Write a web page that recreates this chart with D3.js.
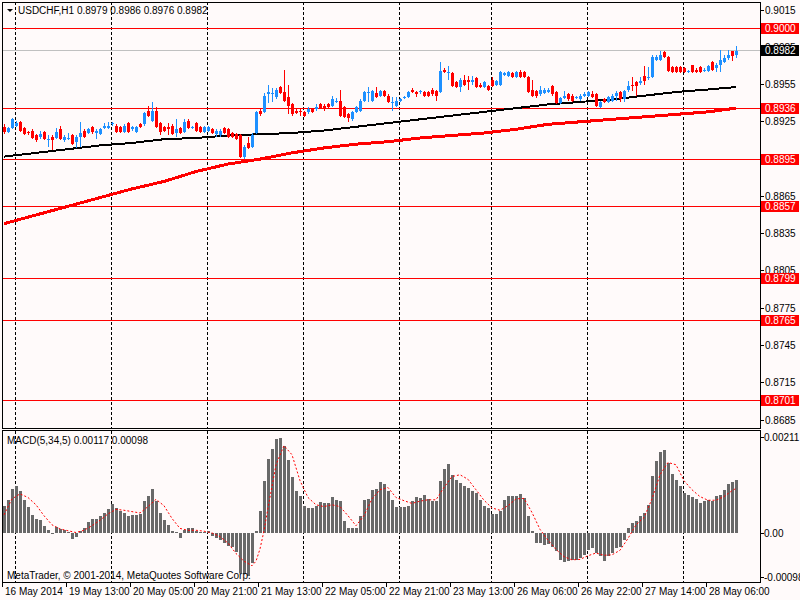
<!DOCTYPE html>
<html><head>
<meta charset="utf-8">
<title>USDCHF,H1</title>
<style>
body {margin:0; background:#fffafa}
text {font-family:"Liberation Sans", Arial, sans-serif; font-size:10px; fill:#000}
</style>
</head>
<body>
<script src="https://d3js.org/d3.v7.min.js"></script>
<script>
// hourly bars, 16 May 21:00 .. 28 May 13:00
var opens = [0.8921,0.8917,0.8920,0.8922,0.8925,0.8920,0.8917,0.8918,0.8914,0.8913,
  0.8917,0.8910,0.8913,0.8912,0.8919,0.8910,0.8911,0.8914,0.8909,0.8913,
  0.8918,0.8916,0.8921,0.8916,0.8915,0.8920,0.8920,0.8923,0.8922,0.8921,
  0.8917,0.8924,0.8919,0.8917,0.8923,0.8923,0.8934,0.8926,0.8934,0.8924,
  0.8921,0.8921,0.8922,0.8916,0.8920,0.8917,0.8926,0.8920,0.8924,0.8921,
  0.8917,0.8918,0.8919,0.8915,0.8914,0.8920,0.8919,0.8916,0.8915,0.8914,
  0.8897,0.8908,0.8905,0.8916,0.8934,0.8933,0.8947,0.8947,0.8945,0.8953,
  0.8949,0.8945,0.8939,0.8934,0.8934,0.8933,0.8933,0.8935,0.8935,0.8939,
  0.8938,0.8939,0.8938,0.8941,0.8942,0.8937,0.8931,0.8927,0.8933,0.8934,
  0.8942,0.8948,0.8942,0.8948,0.8946,0.8950,0.8946,0.8940,0.8938,0.8942,
  0.8944,0.8945,0.8951,0.8949,0.8949,0.8949,0.8949,0.8951,0.8950,0.8949,
  0.8967,0.8964,0.8964,0.8957,0.8953,0.8959,0.8959,0.8957,0.8960,0.8955,
  0.8953,0.8954,0.8959,0.8955,0.8955,0.8963,0.8962,0.8964,0.8961,0.8965,
  0.8965,0.8961,0.8951,0.8950,0.8947,0.8948,0.8949,0.8954,0.8949,0.8940,
  0.8944,0.8947,0.8946,0.8944,0.8943,0.8946,0.8946,0.8947,0.8947,0.8937,
  0.8943,0.8941,0.8942,0.8946,0.8949,0.8943,0.8951,0.8955,0.8957,0.8956,
  0.8962,0.8960,0.8961,0.8975,0.8975,0.8981,0.8977,0.8969,0.8969,0.8969,
  0.8968,0.8965,0.8971,0.8967,0.8969,0.8966,0.8966,0.8973,0.8968,0.8971,
  0.8973,0.8976,0.8982,0.8979];
var highs = [0.8923,0.8921,0.8928,0.8926,0.8926,0.8921,0.8918,0.8919,0.8915,0.8918,
  0.8918,0.8914,0.8914,0.8920,0.8922,0.8914,0.8916,0.8915,0.8914,0.8925,
  0.8919,0.8920,0.8922,0.8919,0.8920,0.8924,0.8925,0.8925,0.8923,0.8922,
  0.8923,0.8925,0.8922,0.8922,0.8924,0.8933,0.8938,0.8941,0.8937,0.8925,
  0.8922,0.8924,0.8923,0.8927,0.8921,0.8927,0.8927,0.8922,0.8925,0.8922,
  0.8922,0.8922,0.8920,0.8919,0.8919,0.8921,0.8920,0.8917,0.8916,0.8915,
  0.8906,0.8913,0.8916,0.8934,0.8935,0.8948,0.8955,0.8952,0.8952,0.8954,
  0.8967,0.8955,0.8940,0.8935,0.8935,0.8934,0.8937,0.8936,0.8939,0.8940,
  0.8939,0.8940,0.8946,0.8944,0.8951,0.8938,0.8932,0.8934,0.8938,0.8943,
  0.8950,0.8953,0.8951,0.8953,0.8951,0.8951,0.8947,0.8945,0.8945,0.8944,
  0.8946,0.8950,0.8952,0.8950,0.8951,0.8950,0.8950,0.8952,0.8951,0.8973,
  0.8968,0.8970,0.8965,0.8958,0.8960,0.8963,0.8962,0.8962,0.8961,0.8956,
  0.8958,0.8955,0.8961,0.8959,0.8966,0.8965,0.8966,0.8965,0.8966,0.8967,
  0.8966,0.8962,0.8959,0.8951,0.8954,0.8952,0.8952,0.8955,0.8950,0.8945,
  0.8950,0.8948,0.8947,0.8946,0.8947,0.8949,0.8950,0.8950,0.8948,0.8942,
  0.8944,0.8946,0.8947,0.8950,0.8950,0.8951,0.8958,0.8961,0.8958,0.8961,
  0.8970,0.8969,0.8979,0.8979,0.8982,0.8982,0.8978,0.8970,0.8970,0.8970,
  0.8969,0.8967,0.8971,0.8968,0.8970,0.8968,0.8971,0.8974,0.8972,0.8983,
  0.8979,0.8983,0.8982,0.8986];
var lows = [0.8915,0.8916,0.8919,0.8921,0.8917,0.8914,0.8914,0.8911,0.8909,0.8911,
  0.8910,0.8905,0.8902,0.8911,0.8910,0.8909,0.8910,0.8906,0.8904,0.8905,
  0.8912,0.8915,0.8915,0.8911,0.8914,0.8919,0.8919,0.8922,0.8916,0.8916,
  0.8916,0.8916,0.8918,0.8916,0.8920,0.8922,0.8929,0.8925,0.8920,0.8914,
  0.8917,0.8914,0.8914,0.8913,0.8915,0.8916,0.8919,0.8919,0.8917,0.8916,
  0.8916,0.8917,0.8915,0.8913,0.8913,0.8915,0.8912,0.8912,0.8910,0.8896,
  0.8895,0.8903,0.8904,0.8915,0.8930,0.8932,0.8940,0.8941,0.8943,0.8947,
  0.8941,0.8931,0.8930,0.8931,0.8930,0.8929,0.8931,0.8932,0.8934,0.8935,
  0.8934,0.8936,0.8937,0.8940,0.8929,0.8928,0.8925,0.8926,0.8932,0.8933,
  0.8941,0.8941,0.8941,0.8944,0.8945,0.8945,0.8940,0.8934,0.8937,0.8941,
  0.8943,0.8944,0.8948,0.8945,0.8947,0.8945,0.8945,0.8946,0.8942,0.8948,
  0.8964,0.8959,0.8953,0.8952,0.8949,0.8954,0.8951,0.8955,0.8952,0.8952,
  0.8952,0.8950,0.8953,0.8954,0.8954,0.8962,0.8961,0.8960,0.8960,0.8960,
  0.8960,0.8948,0.8945,0.8944,0.8946,0.8947,0.8948,0.8946,0.8939,0.8939,
  0.8943,0.8942,0.8941,0.8943,0.8942,0.8945,0.8945,0.8944,0.8937,0.8936,
  0.8940,0.8940,0.8941,0.8942,0.8941,0.8941,0.8949,0.8950,0.8946,0.8955,
  0.8955,0.8959,0.8960,0.8974,0.8974,0.8976,0.8965,0.8964,0.8964,0.8964,
  0.8964,0.8964,0.8964,0.8964,0.8964,0.8965,0.8965,0.8966,0.8965,0.8965,
  0.8972,0.8975,0.8974,0.8976];
var closes = [0.8917,0.8920,0.8927,0.8924,0.8918,0.8915,0.8916,0.8912,0.8910,0.8915,
  0.8911,0.8911,0.8910,0.8917,0.8911,0.8913,0.8912,0.8907,0.8913,0.8916,
  0.8913,0.8919,0.8917,0.8918,0.8919,0.8922,0.8922,0.8924,0.8917,0.8917,
  0.8922,0.8917,0.8921,0.8921,0.8921,0.8932,0.8930,0.8934,0.8921,0.8917,
  0.8918,0.8919,0.8915,0.8919,0.8916,0.8925,0.8920,0.8921,0.8918,0.8917,
  0.8921,0.8921,0.8916,0.8918,0.8918,0.8916,0.8913,0.8913,0.8911,0.8897,
  0.8905,0.8904,0.8914,0.8933,0.8931,0.8946,0.8949,0.8948,0.8951,0.8948,
  0.8942,0.8938,0.8931,0.8932,0.8933,0.8930,0.8935,0.8933,0.8937,0.8936,
  0.8935,0.8937,0.8943,0.8942,0.8930,0.8929,0.8928,0.8933,0.8937,0.8942,
  0.8949,0.8949,0.8950,0.8945,0.8950,0.8946,0.8941,0.8941,0.8942,0.8943,
  0.8945,0.8949,0.8949,0.8947,0.8950,0.8946,0.8946,0.8947,0.8946,0.8966,
  0.8965,0.8965,0.8954,0.8953,0.8959,0.8955,0.8957,0.8959,0.8953,0.8953,
  0.8957,0.8951,0.8954,0.8958,0.8965,0.8964,0.8965,0.8961,0.8965,0.8961,
  0.8961,0.8949,0.8946,0.8946,0.8951,0.8951,0.8951,0.8947,0.8940,0.8944,
  0.8946,0.8943,0.8942,0.8945,0.8946,0.8947,0.8949,0.8945,0.8938,0.8941,
  0.8941,0.8945,0.8946,0.8948,0.8943,0.8950,0.8954,0.8954,0.8954,0.8958,
  0.8958,0.8961,0.8977,0.8977,0.8979,0.8977,0.8966,0.8965,0.8965,0.8965,
  0.8965,0.8966,0.8965,0.8965,0.8965,0.8967,0.8970,0.8967,0.8971,0.8975,
  0.8976,0.8979,0.8978,0.8982];

// moving averages, read every 8 bars
var maBars = [0,8,16,24,32,40,48,56,64,72,80,88,96,104,112,120,128,136,144,152,160,168,176,183];
var maBlack = [0.8897,0.8900,0.8903,0.8906,0.8908,0.8911,0.8912,0.8914,0.8915,0.8916,0.8918,0.8921,
  0.8924,0.8927,0.8930,0.8933,0.8936,0.8939,0.8941,0.8943,0.8946,0.8949,0.8951,0.8953];
var maRed = [0.8843,0.8850,0.8857,0.8864,0.8871,0.8877,0.8885,0.8891,0.8895,0.8900,0.8904,0.8907,
  0.8909,0.8912,0.8914,0.8916,0.8919,0.8923,0.8925,0.8927,0.8929,0.8931,0.8933,0.8936];

// MACD(5,34,5) main values per bar, in units of 0.00001
var macd = [60,73,97,103,92,73,57,40,31,29,
  16,7,-2,13,9,6,2,-13,-9,5,
  11,25,31,31,37,45,53,64,55,48,
  45,37,40,40,42,71,82,97,71,44,
  29,18,4,2,-11,7,11,12,4,3,
  3,4,-7,-12,-15,-21,-28,-30,-41,-87,
  -90,-94,-67,4,48,114,163,185,207,209,
  191,160,122,92,82,60,56,55,60,68,
  67,66,79,73,71,26,10,10,11,37,
  73,75,94,97,111,108,92,73,57,57,
  57,60,70,79,77,84,75,70,70,114,
  141,152,128,117,110,104,99,92,89,73,
  60,55,42,42,48,73,82,82,82,86,
  77,37,4,-22,-23,-26,-24,-31,-40,-59,
  -64,-62,-59,-59,-55,-48,-37,-33,-44,-51,
  -62,-51,-44,-33,-31,-15,11,22,26,37,
  44,62,125,158,177,183,154,130,116,103,
  89,84,79,75,67,70,72,70,81,84,
  94,108,111,117];
// signal line, read at these bars (units of 0.00001)
var sigBars = [0,2,4,6,8,10,12,14,16,18,20,22,24,26,28,30,32,34,36,38,40,42,44,46,48,50,52,54,56,58,
  60,62,63,64,65,66,68,70,72,74,76,78,80,82,84,86,88,90,92,94,96,98,100,102,104,106,108,110,112,114,
  116,118,120,122,124,126,128,130,132,134,136,138,140,142,144,146,148,150,152,154,156,158,160,162,164,
  166,168,170,172,174,176,178,180,182,183];
var sigVals = [40,75,86,78,62,38,18,9,5,1,6,16,28,42,52,50,47,44,58,74,60,32,10,6,6,4,0,-8,-22,-45,
  -62,-72,-62,-35,5,55,150,192,172,115,78,62,58,62,58,38,16,38,75,95,100,78,71,65,70,73,73,100,124,128,
  118,95,72,55,50,60,75,76,45,8,-16,-36,-52,-59,-58,-50,-44,-49,-48,-38,-12,18,34,75,128,
  155,150,115,95,80,72,72,80,93,98];

var levels = [0.9000,0.8936,0.8895,0.8857,0.8799,0.8765,0.8701];
var bid = 0.8982;
var priceTicks = [0.9015,0.8985,0.8955,0.8925,0.8895,0.8865,0.8835,0.8805,0.8775,0.8745,0.8715,0.8685];
var macdTicks = [0.00211,0,-0.00098];
var macdTickLabels = ["0.00211","0.00","-0.00098"];
var timeBars = [0,16,32,48,64,80,96,112,128,144,160,176];
var timeLabels = ["16 May 2014","19 May 13:00","20 May 05:00","20 May 21:00","21 May 13:00","22 May 05:00",
  "22 May 21:00","23 May 13:00","26 May 06:00","26 May 22:00","27 May 14:00","28 May 06:00"];
var dayBars = [3,27,51,75,99,122,146,170];

var width = 800, height = 600;
var left = 2, right = 760, topY = 2, mainBottom = 428, subTop = 431, subBottom = 582;

var svg = d3.select("body").append("svg")
    .attr("width", width)
    .attr("height", height);

svg.append("rect").attr("width", width).attr("height", height).attr("fill", "#fffafa");

var x = d3.scaleLinear().domain([0, 1]).range([4, 8]);   // 4 px per bar
var y = d3.scaleLinear().domain([0.8685, 0.9015]).range([420, 10]);
var ym = d3.scaleLinear().domain([0, 0.00211]).range([533, 437]);

var defs = svg.append("defs");
defs.append("clipPath").attr("id", "clipMain").append("rect")
    .attr("x", left).attr("y", topY).attr("width", right - left).attr("height", mainBottom - topY);
defs.append("clipPath").attr("id", "clipSub").append("rect")
    .attr("x", left).attr("y", subTop).attr("width", right - left).attr("height", subBottom - subTop);

var main = svg.append("g").attr("clip-path", "url(#clipMain)");
var sub = svg.append("g").attr("clip-path", "url(#clipSub)");

function px(i) { return Math.round(x(i)); }

// day separators
[[main, topY, mainBottom], [sub, subTop, subBottom]].forEach(function(p) {
    p[0].selectAll("line.day").data(dayBars).enter().append("line")
        .attr("x1", function(d){ return px(d) - 0.5; })
        .attr("x2", function(d){ return px(d) - 0.5; })
        .attr("y1", p[1]).attr("y2", p[2])
        .attr("stroke", "#000")
        .attr("stroke-dasharray", "3,2");
});

// bid line and levels
main.append("line")
    .attr("x1", left).attr("x2", right)
    .attr("y1", Math.floor(y(bid)) + 0.5).attr("y2", Math.floor(y(bid)) + 0.5)
    .attr("stroke", "#c0c0c0");
main.selectAll("line.level").data(levels).enter().append("line")
    .attr("x1", left).attr("x2", right)
    .attr("y1", function(d){ return Math.floor(y(d)) + 0.5; })
    .attr("y2", function(d){ return Math.floor(y(d)) + 0.5; })
    .attr("stroke", "#ff0000");

// moving averages
var maLine = d3.line()
    .x(function(d, i){ return x(maBars[i]); })
    .y(function(d){ return y(d); });
main.append("path").datum(maRed)
    .attr("d", maLine).attr("fill", "none")
    .attr("stroke", "#ff0000").attr("stroke-width", 3)
    .attr("shape-rendering", "crispEdges");
main.append("path").datum(maBlack)
    .attr("d", maLine).attr("fill", "none")
    .attr("stroke", "#000").attr("stroke-width", 2)
    .attr("shape-rendering", "crispEdges");

// candles
var bars = d3.range(closes.length);
var cg = main.append("g").attr("shape-rendering", "crispEdges");
function col(i) { return closes[i] >= opens[i] ? "#1e90ff" : "#ff0000"; }
cg.selectAll("line.wick").data(bars).enter().append("line")
    .attr("x1", function(i){ return px(i) + 0.5; })
    .attr("x2", function(i){ return px(i) + 0.5; })
    .attr("y1", function(i){ return y(highs[i]); })
    .attr("y2", function(i){ return y(lows[i]); })
    .attr("stroke", col);
cg.selectAll("rect.body").data(bars).enter().append("rect")
    .attr("x", function(i){ return px(i) - 1; })
    .attr("width", 3)
    .attr("y", function(i){ return y(Math.max(opens[i], closes[i])); })
    .attr("height", function(i){ return Math.max(1, Math.abs(y(opens[i]) - y(closes[i]))); })
    .attr("fill", col);

// MACD histogram
sub.append("g").attr("shape-rendering", "crispEdges")
    .selectAll("rect").data(bars).enter().append("rect")
    .attr("x", function(i){ return px(i) - 1; })
    .attr("width", 3)
    .attr("y", function(i){ return Math.min(ym(0), ym(macd[i] * 1e-5)); })
    .attr("height", function(i){ return Math.max(1, Math.abs(ym(macd[i] * 1e-5) - ym(0))); })
    .attr("fill", "#696969");

var sigLine = d3.line()
    .x(function(d, i){ return x(sigBars[i]); })
    .y(function(d){ return ym(d * 1e-5); });
sub.append("path").datum(sigVals)
    .attr("d", sigLine).attr("fill", "none")
    .attr("stroke", "#ff0000").attr("stroke-width", 1)
    .attr("stroke-dasharray", "2,2");

// frames
var frame = svg.append("g").attr("fill", "none").attr("stroke", "#000").attr("shape-rendering", "crispEdges");
frame.append("rect").attr("x", left + 0.5).attr("y", topY + 0.5)
    .attr("width", right - left).attr("height", mainBottom - topY);
frame.append("rect").attr("x", left + 0.5).attr("y", subTop - 0.5)
    .attr("width", right - left).attr("height", subBottom - subTop + 1);

// price axis
var ax = svg.append("g");
ax.selectAll("line.pt").data(priceTicks).enter().append("line")
    .attr("x1", right).attr("x2", right + 4)
    .attr("y1", function(d){ return Math.floor(y(d)) + 0.5; })
    .attr("y2", function(d){ return Math.floor(y(d)) + 0.5; })
    .attr("stroke", "#000");
ax.selectAll("text.pt").data(priceTicks).enter().append("text")
    .attr("x", right + 5)
    .attr("y", function(d){ return y(d) + 3.5; })
    .text(function(d){ return d.toFixed(4); });

// level labels
var lab = ax.selectAll("g.lev").data(levels).enter().append("g");
lab.append("rect")
    .attr("x", right + 1).attr("width", 38)
    .attr("y", function(d){ return Math.floor(y(d)) - 5; })
    .attr("height", 11)
    .attr("fill", "#ff0000");
lab.append("text")
    .attr("x", right + 5)
    .attr("y", function(d){ return Math.floor(y(d)) + 4; })
    .style("fill", "#fff")
    .text(function(d){ return d.toFixed(4); });

ax.append("rect")
    .attr("x", right + 1).attr("width", 38)
    .attr("y", Math.floor(y(bid)) - 5).attr("height", 11)
    .attr("fill", "#000");
ax.append("text")
    .attr("x", right + 5).attr("y", Math.floor(y(bid)) + 4)
    .style("fill", "#fff")
    .text(bid.toFixed(4));

// MACD axis
ax.selectAll("line.mt").data(macdTicks).enter().append("line")
    .attr("x1", right).attr("x2", right + 4)
    .attr("y1", function(d){ return Math.floor(ym(d)) + 0.5; })
    .attr("y2", function(d){ return Math.floor(ym(d)) + 0.5; })
    .attr("stroke", "#000");
ax.selectAll("text.mt").data(macdTicks).enter().append("text")
    .attr("x", right + 4)
    .attr("y", function(d){ return ym(d) + 3.5; })
    .text(function(d, i){ return macdTickLabels[i]; });

// time axis
ax.selectAll("line.tt").data(timeBars).enter().append("line")
    .attr("x1", function(d){ return px(d) - 1.5; })
    .attr("x2", function(d){ return px(d) - 1.5; })
    .attr("y1", subBottom).attr("y2", subBottom + 5)
    .attr("stroke", "#000");
ax.selectAll("text.tt").data(timeBars).enter().append("text")
    .attr("x", function(d){ return px(d) + 1; })
    .attr("y", 595)
    .text(function(d, i){ return timeLabels[i]; });

// titles
svg.append("path").attr("d", "M7,9L13,9L10,12Z").attr("fill", "#000");
svg.append("text").attr("x", 18).attr("y", 14)
    .text("USDCHF,H1  " + opens[183].toFixed(4) + " " + highs[183].toFixed(4) + " " +
          lows[183].toFixed(4) + " " + closes[183].toFixed(4));
svg.append("text").attr("x", 7).attr("y", 444)
    .text("MACD(5,34,5) " + (macd[183] * 1e-5).toFixed(5) + " " + (sigVals[sigVals.length - 1] * 1e-5).toFixed(5));
svg.append("text").attr("x", 7).attr("y", 579)
    .text("MetaTrader, © 2001-2014, MetaQuotes Software Corp.");
</script>
</body></html>
